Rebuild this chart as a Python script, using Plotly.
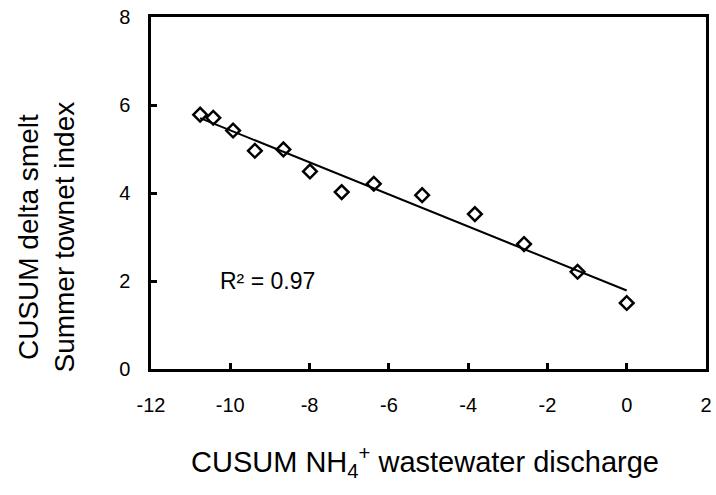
import numpy as np
import plotly.graph_objects as go

# Data
cusum_nh4 = [-10.76, -10.43, -9.93, -9.38, -8.66, -7.99, -7.19, -6.38, -5.16, -3.83, -2.59, -1.24, 0.0]
cusum_smelt = [5.78, 5.71, 5.42, 4.96, 4.99, 4.49, 4.02, 4.21, 3.95, 3.52, 2.84, 2.21, 1.50]
x_ticks = [-12, -10, -8, -6, -4, -2, 0, 2]
y_ticks = [0, 2, 4, 6, 8]
r2_label = "R² = 0.97"
x_title = "CUSUM NH<sub>4</sub><sup>+</sup> wastewater discharge"
y_title = "CUSUM delta smelt<br>Summer townet index"

FONT = "Liberation Sans, Arial, sans-serif"

slope, intercept = np.polyfit(cusum_nh4, cusum_smelt, 1)
fit_x = [min(cusum_nh4), max(cusum_nh4)]
fit_y = [slope * v + intercept for v in fit_x]

fig = go.Figure()
fig.add_trace(go.Scatter(
    x=fit_x, y=fit_y, mode="lines",
    line=dict(color="black", width=2), showlegend=False, hoverinfo="skip"))
fig.add_trace(go.Scatter(
    x=cusum_nh4, y=cusum_smelt, mode="markers",
    marker=dict(symbol="diamond-open", size=10.5, color="black",
                line=dict(color="black", width=2.5)),
    showlegend=False))

fig.add_annotation(x=-10.3, y=2.0, xref="x", yref="y", text=r2_label,
                   showarrow=False, xanchor="left", yanchor="middle",
                   font=dict(family=FONT, size=23, color="black"))

fig.add_annotation(x=-0.19, y=0.375, xref="paper", yref="paper", text=y_title,
                   showarrow=False, textangle=-90, xanchor="center", yanchor="middle",
                   font=dict(family=FONT, size=28, color="black"))
fig.add_annotation(x=0.494, y=-0.265, xref="paper", yref="paper", text=x_title,
                   showarrow=False, xanchor="center", yanchor="middle",
                   font=dict(family=FONT, size=29, color="black"))

axis_common = dict(
    showgrid=False, zeroline=False, showline=True, linecolor="black", linewidth=2.5,
    mirror=True, ticks="inside", ticklen=6, tickwidth=2.5, tickcolor="black",
    tickfont=dict(family=FONT, size=20, color="black"),
)
fig.update_xaxes(range=[-12, 2], tickvals=x_ticks, ticktext=[str(v) for v in x_ticks],
                 ticklabelstandoff=16, **axis_common)
fig.update_yaxes(range=[0, 8], tickvals=y_ticks, ticktext=[str(v) for v in y_ticks],
                 ticklabelstandoff=14, **axis_common)

fig.update_layout(
    width=716, height=495,
    margin=dict(l=151, r=10, t=17, b=126, autoexpand=False),
    paper_bgcolor="white", plot_bgcolor="white",
    font=dict(family=FONT, color="black"),
)

fig.write_html("out.html")
